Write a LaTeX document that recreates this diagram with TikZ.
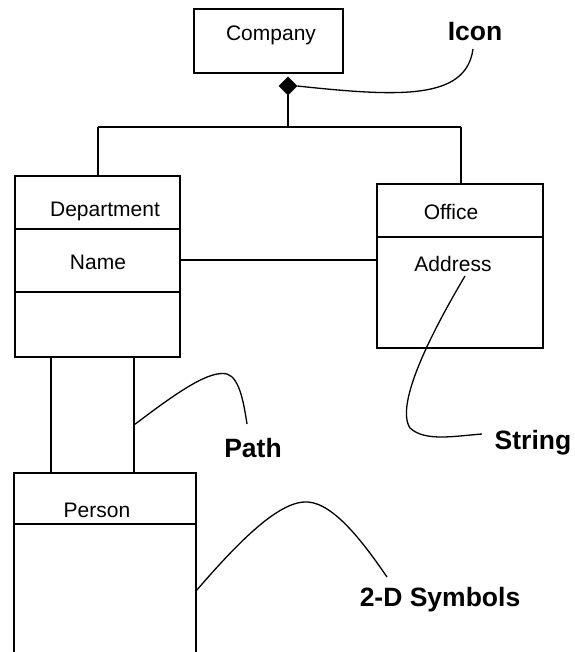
\documentclass[tikz,border=0pt]{standalone}
\usepackage{fontspec}
\setmainfont{Liberation Sans}
\usetikzlibrary{shapes.geometric}
\begin{document}
\begin{tikzpicture}[x=1pt,y=-1pt,line width=1.6pt,
  box/.style={draw,rectangle,inner sep=0pt,outer sep=0pt,anchor=north west},
  lbl/.style={inner sep=0pt,font=\fontsize{21}{25}\selectfont},
  tag/.style={inner sep=0pt,font=\fontsize{26.5}{30}\selectfont\bfseries},
  lead/.style={line width=1.3pt}]
\useasboundingbox (0,0) rectangle (574,652);

% Company class
\node[box,minimum width=149pt,minimum height=64pt] (company) at (194,9) {};
\node[lbl] (companyt) at (271,35) {Company};
\node[draw,fill=black,diamond,inner sep=0pt,minimum width=17pt,minimum height=17pt] (agg) at (288,86) {};

% Department class
\node[box,minimum width=165pt,minimum height=181pt] (dept) at (15,176) {};
\draw (15,229) -- (180,229);
\draw (15,292) -- (180,292);
\node[lbl] (deptt) at (105,211) {Department};
\node[lbl] (namet) at (98,262) {Name};

% Office class
\node[box,minimum width=166pt,minimum height=164pt] (office) at (377,184) {};
\draw (377,237) -- (543,237);
\node[lbl] (officet) at (451,212) {Office};
\node[lbl] (addrt) at (453,264) {Address};

% Person class (open at the bottom)
\coordinate (pbl) at (14,652);
\coordinate (ptl) at (14,473);
\coordinate (ptr) at (196,473);
\coordinate (pbr) at (196,652);
\draw (pbl) -- (ptl) -- (ptr) -- (pbr);
\draw (14,524) -- (196,524);
\node[lbl] (persont) at (97,510) {Person};

% Aggregation tree
\coordinate (barl) at (98,127);
\coordinate (barm) at (288,127);
\coordinate (barr) at (461,127);
\draw (agg.south) -- (barm);
\draw (barl) -- (barr);
\draw (barl) -- (barl |- dept.north);
\draw (barr) -- (barr |- office.north);

% Association Department -- Office
\draw (dept.east |- 0,260) -- (office.west |- 0,260);

% Double line Department -- Person
\draw (51,357) -- (51,473);
\draw (134,357) -- (134,473);

% Annotation labels
\node[tag] (icon) at (475,32) {Icon};
\node[tag] (path) at (253,448) {Path};
\node[tag] (string) at (533,443) {String};
\node[tag] (sym) at (440,600) {2-D Symbols};

% Leader curves
\draw[lead] (agg.east) .. controls (400,97) and (466,100) .. (473,49);
\draw[lead] (465,276) .. controls (430,335) and (395,405) .. (410,428)
  .. controls (425,442) and (455,436) .. (482,434);
\draw[lead] (134,425) .. controls (180,390) and (210,370) .. (227,374)
  .. controls (240,378) and (244,405) .. (247,424);
\draw[lead] (196,591) .. controls (240,540) and (280,500) .. (308,502)
  .. controls (335,504) and (365,545) .. (387,577);
\end{tikzpicture}
\end{document}
